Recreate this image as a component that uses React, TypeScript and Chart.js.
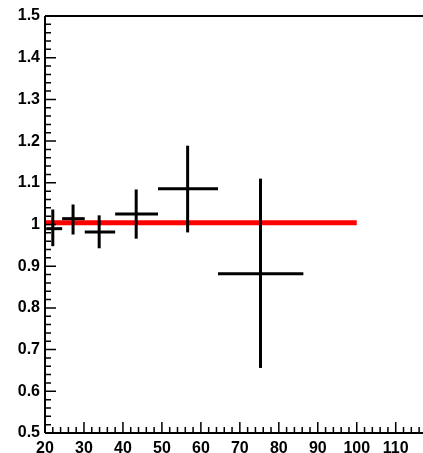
import React, { useEffect, useRef } from "react";
import { Chart, registerables } from "chart.js";

Chart.register(...registerables);

const xCenter = [22, 27.2, 33.9, 43.4, 56.6, 75.3];
const xLow = [20.3, 24.4, 30.2, 38, 49, 64.4];
const xHigh = [24.4, 30.2, 38, 49, 64.4, 86.3];
const yValue = [0.99, 1.014, 0.982, 1.025, 1.086, 0.882];
const yLow = [0.948, 0.976, 0.943, 0.966, 0.981, 0.656];
const yHigh = [1.036, 1.048, 1.022, 1.084, 1.189, 1.11];

const fitX = [20, 100];
const fitY = [1.004, 1.004];

const xTicks = [20, 30, 40, 50, 60, 70, 80, 90, 100, 110];
const yTicks = [0.5, 0.6, 0.7, 0.8, 0.9, 1.0, 1.1, 1.2, 1.3, 1.4, 1.5];

const X_MIN = 20;
const X_MAX = 117;
const Y_MIN = 0.5;
const Y_MAX = 1.5;

const framePlugin = {
  id: "rootFrame",
  afterDatasetsDraw(chart: any) {
    const { ctx, chartArea, scales } = chart;
    const xs = scales.x;
    const ys = scales.y;
    ctx.save();
    ctx.strokeStyle = "#000";
    ctx.lineWidth = 2;
    ctx.beginPath();
    ctx.moveTo(chartArea.left, chartArea.top);
    ctx.lineTo(chartArea.left, chartArea.bottom);
    ctx.moveTo(chartArea.left, chartArea.bottom);
    ctx.lineTo(chartArea.right, chartArea.bottom);
    ctx.moveTo(chartArea.left, chartArea.top);
    ctx.lineTo(chartArea.right, chartArea.top);
    ctx.stroke();

    ctx.lineWidth = 1.5;
    ctx.beginPath();
    for (let v = Y_MIN; v <= Y_MAX + 1e-9; v += 0.02) {
      const r = Math.round(v * 100);
      const major = r % 10 === 0;
      const py = ys.getPixelForValue(v);
      ctx.moveTo(chartArea.left, py);
      ctx.lineTo(chartArea.left + (major ? 11 : 6), py);
    }
    for (let v = X_MIN; v <= X_MAX + 1e-9; v += 2) {
      const major = Math.round(v) % 10 === 0;
      const px = xs.getPixelForValue(v);
      ctx.moveTo(px, chartArea.bottom);
      ctx.lineTo(px, chartArea.bottom - (major ? 11 : 6));
    }
    ctx.stroke();
    ctx.restore();
  },
};

export default function App() {
  const ref = useRef<HTMLCanvasElement>(null);

  useEffect(() => {
    if (!ref.current) return;
    const datasets: any[] = [];
    datasets.push({
      data: fitX.map((x, i) => ({ x, y: fitY[i] })),
      borderColor: "#ff0000",
      borderWidth: 5,
      pointRadius: 0,
      showLine: true,
      borderCapStyle: "butt",
      order: 1,
    });
    for (let i = 0; i < xCenter.length; i++) {
      datasets.push({
        data: [
          { x: xLow[i], y: yValue[i] },
          { x: xHigh[i], y: yValue[i] },
        ],
        borderColor: "#000",
        borderWidth: 3,
        pointRadius: 0,
        showLine: true,
        borderCapStyle: "butt",
        order: 0,
      });
      datasets.push({
        data: [
          { x: xCenter[i], y: yLow[i] },
          { x: xCenter[i], y: yHigh[i] },
        ],
        borderColor: "#000",
        borderWidth: 3,
        pointRadius: 0,
        showLine: true,
        borderCapStyle: "butt",
        order: 0,
      });
    }

    const font = { family: "'Liberation Sans', Arial, sans-serif", size: 16, weight: "bold" as const };

    const chart = new Chart(ref.current, {
      type: "scatter",
      data: { datasets },
      plugins: [framePlugin],
      options: {
        animation: false,
        responsive: false,
        maintainAspectRatio: false,
        layout: { padding: { top: 16, right: 0, left: 0, bottom: 0 } },
        plugins: { legend: { display: false }, tooltip: { enabled: false } },
        scales: {
          x: {
            type: "linear",
            min: X_MIN,
            max: X_MAX,
            grid: { display: false, drawTicks: false },
            border: { display: false },
            afterBuildTicks: (s: any) => {
              s.ticks = xTicks.map((v) => ({ value: v }));
            },
            afterFit: (s: any) => {
              s.height = 20;
            },
            ticks: {
              color: "#000",
              font,
              padding: 6,
              maxRotation: 0,
              autoSkip: false,
              callback: (v: any) => String(v),
            },
          },
          y: {
            type: "linear",
            min: Y_MIN,
            max: Y_MAX,
            grid: { display: false, drawTicks: false },
            border: { display: false },
            afterBuildTicks: (s: any) => {
              s.ticks = yTicks.map((v) => ({ value: v }));
            },
            afterFit: (s: any) => {
              s.width = 45;
            },
            ticks: {
              color: "#000",
              font,
              padding: 5,
              autoSkip: false,
              callback: (v: any) => {
                const n = Number(v);
                return Math.abs(n - 1) < 1e-9 ? "1" : n.toFixed(1);
              },
            },
          },
        },
      },
    });
    return () => chart.destroy();
  }, []);

  return (
    <div style={{ position: "fixed", left: 0, top: 0, width: 423, height: 453, background: "#fff" }}>
      <canvas ref={ref} width={423} height={453} style={{ display: "block" }} />
    </div>
  );
}
